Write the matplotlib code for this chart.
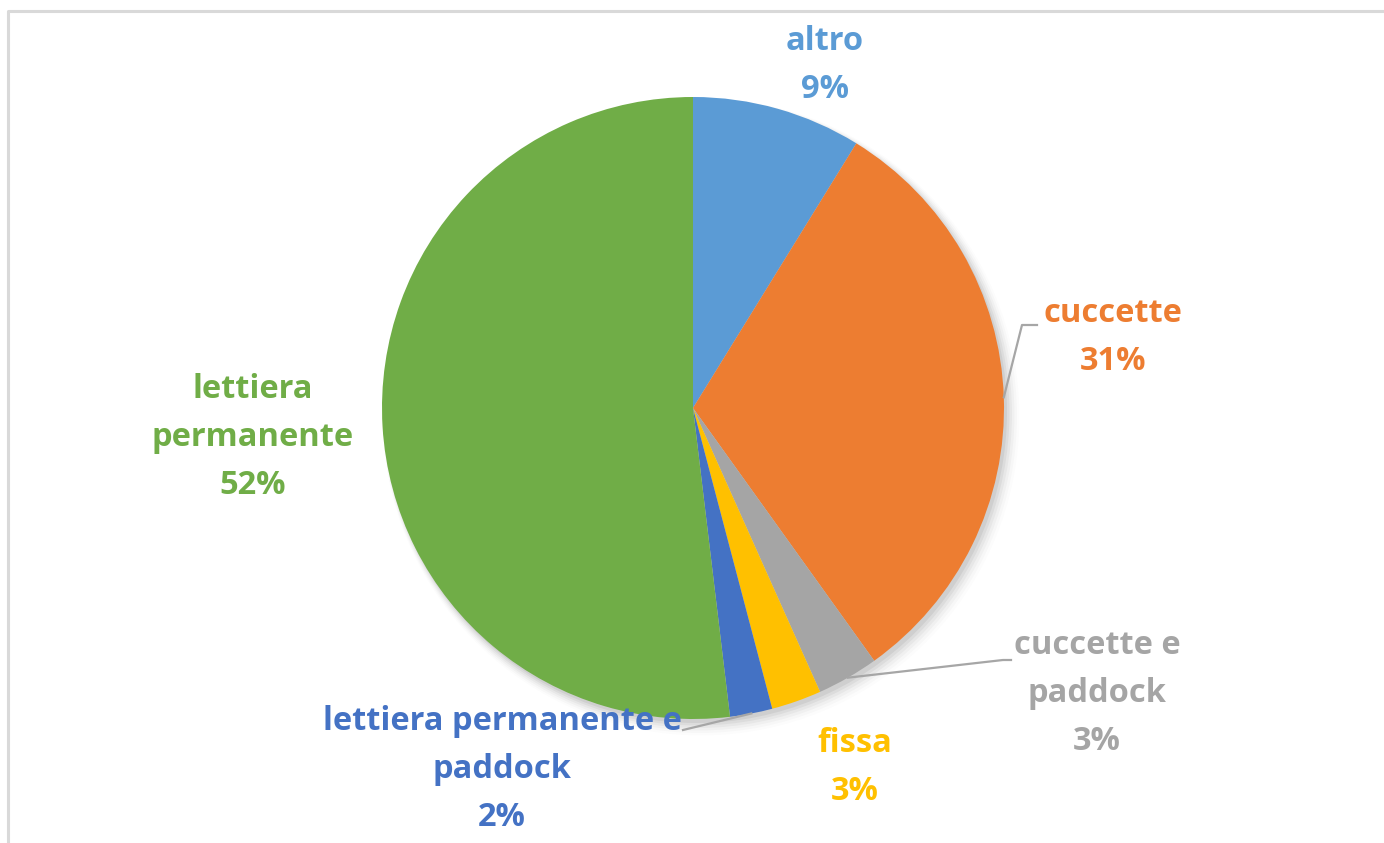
import matplotlib.pyplot as plt
import numpy as np

# Data (percent)
labels = ["altro", "cuccette", "cuccette e\npaddock", "fissa",
          "lettiera permanente e\npaddock", "lettiera\npermanente"]
values = [8.8, 31.3, 3.2, 2.6, 2.2, 51.9]
colors = ["#5B9BD5", "#ED7D31", "#A5A5A5", "#FFC000", "#4472C4", "#70AD47"]

# label centres (pixels) and leader line end points
label_pos = [(825, 65), (1113, 338), (1097, 693), (855, 768), (502, 770), (253, 437)]
leader_end = [None, (1022, 325), (1003, 660), None, (683, 730), None]

W, H = 1384, 843
cx, cy, r = 693, 408, 311

fig = plt.figure(figsize=(W / 100, H / 100), dpi=100)
ax = fig.add_axes([0, 0, 1, 1])

# chart frame (light grey border at top and left)
ax.plot([8, 8, W + 5], [H + 5, 10.5, 10.5], color="#d9d9d9", lw=2.2, solid_capstyle="butt")

# soft shadow under the pie
for i, a in enumerate(np.linspace(0.05, 0.012, 6)):
    sh = plt.Circle((cx + 3 + i, cy + 4 + i), r + i * 1.5, color="black", alpha=a, lw=0)
    ax.add_patch(sh)

# y axis is flipped, so counterclock in data terms is clockwise on screen
wedges, _ = ax.pie(values, colors=colors, startangle=-90, counterclock=True,
                   center=(cx, cy), radius=r, frame=True,
                   wedgeprops=dict(linewidth=0))
ax.set_xlim(0, W)
ax.set_ylim(H, 0)
ax.set_aspect("equal")
ax.axis("off")

for w, lab, val, col, pos, end in zip(wedges, labels, values, colors, label_pos, leader_end):
    txt = f"{lab}\n{round(val):d}%"
    ax.text(pos[0], pos[1], txt, ha="center", va="center", color=col,
            fontsize=23.5, fontweight="bold", family=["Open Sans", "DejaVu Sans"],
            linespacing=1.6)
    if end is not None:
        mid = np.deg2rad((w.theta1 + w.theta2) / 2)
        sx, sy = cx + r * np.cos(mid), cy + r * np.sin(mid)
        xs = [sx, end[0]]
        ys = [sy, end[1]]
        if lab == "cuccette":
            xs.append(end[0] + 15)
            ys.append(end[1])
        elif lab.startswith("cuccette e"):
            xs.append(end[0] + 8)
            ys.append(end[1])
        ax.plot(xs, ys, color="#a6a6a6", lw=1.6)

fig.savefig("out.png", dpi=100)
